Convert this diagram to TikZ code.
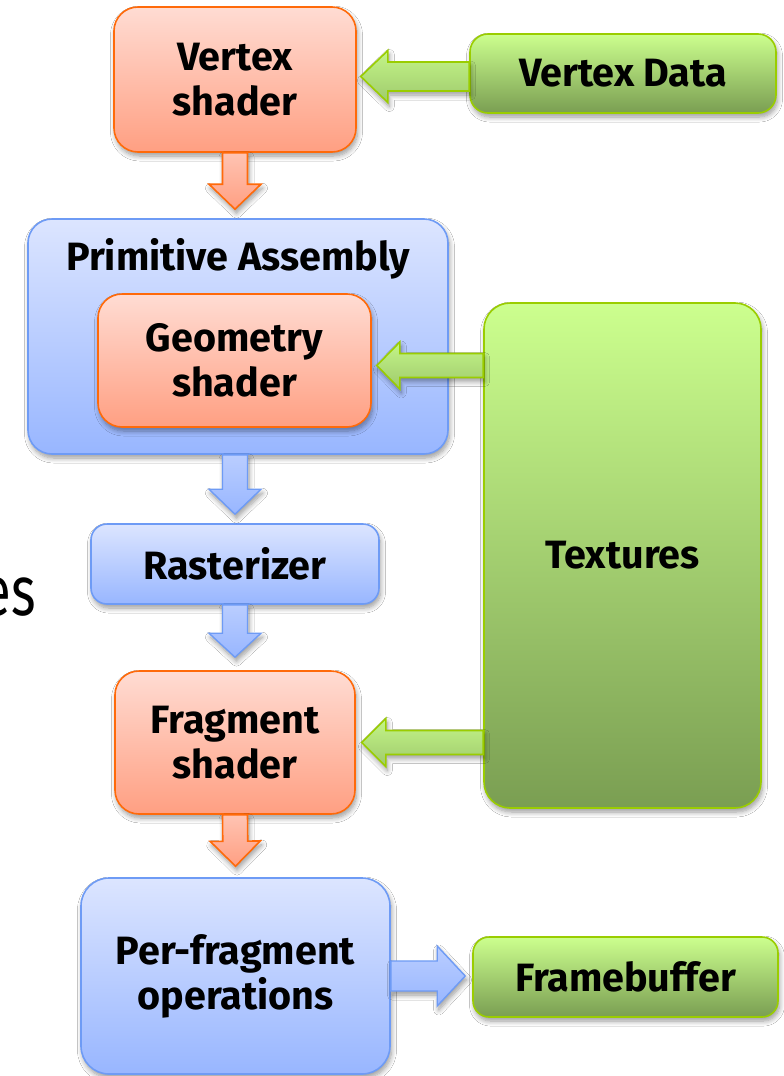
\documentclass[tikz,border=0pt]{standalone}
\usepackage{fontspec}
\newfontfamily\boxfont{Fira Sans}
\newfontfamily\plainfont{Fira Sans}
\usetikzlibrary{calc,shadows.blur}
\definecolor{orT}{HTML}{FFDCD3}
\definecolor{orB}{HTML}{FF9F82}
\definecolor{orL}{HTML}{FF6A0A}
\definecolor{blT}{HTML}{DCE5FF}
\definecolor{blB}{HTML}{98B6FF}
\definecolor{blL}{HTML}{6E9BF5}
\definecolor{grT}{HTML}{CCFF8E}
\definecolor{grB}{HTML}{7A9E52}
\definecolor{grL}{HTML}{9ACD00}
\newcommand{\blockarrow}[6]{%
  \coordinate (ba-s) at #2;
  \coordinate (ba-e) at #3;
  \coordinate (ba-h) at ($(ba-e)!#6!(ba-s)$);
  \path[#1] ($(ba-s)!#4!90:(ba-e)$) -- ($(ba-h)!#4!90:(ba-e)$) -- ($(ba-h)!#5!90:(ba-e)$) -- (ba-e)
    -- ($(ba-h)!#5!-90:(ba-e)$) -- ($(ba-h)!#4!-90:(ba-e)$) -- ($(ba-s)!#4!-90:(ba-e)$) -- cycle;
}
\begin{document}
\begin{tikzpicture}[x=1pt,y=-1pt,
  shad/.style={blur shadow={shadow xshift=1.5pt,shadow yshift=-4pt,shadow blur radius=5pt,shadow blur steps=8,shadow opacity=40}},
  boxtext/.style={font=\boxfont\bfseries\fontsize{39.5}{45}\selectfont,text=black},
  box/.style={shad,boxtext,rounded corners=24pt,line width=1.6pt,align=center,inner sep=0pt},
  obox/.style={box,draw=orL,top color=orT,bottom color=orB},
  bbox/.style={box,draw=blL,top color=blT,bottom color=blB},
  gbox/.style={box,draw=grL,top color=grT,bottom color=grB},
  oarr/.style={shad,draw=orL,line width=1.6pt,line join=miter,top color=orT!60!orB,bottom color=orB},
  barr/.style={shad,draw=blL,line width=1.4pt,line join=miter,top color=blT!50!blB,bottom color=blB},
  garr/.style={shad,draw=grL,line width=1.6pt,line join=miter,top color=grT!90!grB,bottom color=grT!45!grB},
]
\useasboundingbox (0,0) rectangle (784,1076);
\fill[white] (0,0) rectangle (784,1076);
\node[anchor=base east,inner sep=0pt] (es) at (36,615) {\scalebox{0.75}[1]{\plainfont\fontsize{70}{84}\selectfont es}};
% boxes
\node[obox,minimum width=242pt,minimum height=145pt] (vs) at (235,79.5) {Vertex\\shader};
\node[gbox,rounded corners=18pt,minimum width=306pt,minimum height=79pt] (vd) at (623,73.5) {Vertex Data};
\node[bbox,minimum width=420pt,minimum height=235pt] (pa) at (238,336.5) {};
\node[anchor=base,boxtext] (patxt) at (238,270) {Primitive Assembly};
\node[obox,minimum width=273pt,minimum height=133pt] (geo) at (234.5,360.5) {Geometry\\shader};
\node[gbox,rounded corners=26pt,minimum width=277pt,minimum height=505pt] (tex) at (622.5,555.5) {Textures};
\node[bbox,rounded corners=16pt,minimum width=288pt,minimum height=80pt] (ra) at (235,564) {Rasterizer};
\node[obox,minimum width=240pt,minimum height=143pt] (fs) at (235,742.5) {Fragment\\shader};
\node[bbox,rounded corners=28pt,minimum width=309pt,minimum height=196pt] (pf) at (235.5,976) {Per-fragment\\operations};
\node[gbox,rounded corners=16pt,minimum width=305pt,minimum height=80pt] (fb) at (625.5,977) {Framebuffer};
% arrows
\blockarrow{garr}{($(vd.west)+(0,3)$)}{($(vd.west -| vs.east)+(4,3)$)}{14.5pt}{26pt}{27pt}
\blockarrow{oarr}{(vs.south)}{($(vs.south |- pa.north)+(0,-9)$)}{12.5pt}{26pt}{25pt}
\blockarrow{garr}{($(tex.west |- geo.east)+(0,5)$)}{($(geo.east)+(5,5)$)}{12pt}{23.5pt}{23pt}
\blockarrow{barr}{(pa.south -| ra.north)}{($(ra.north)+(0,-9)$)}{12.5pt}{26pt}{25pt}
\blockarrow{barr}{(ra.south)}{($(fs.north)+(0,-13)$)}{12.5pt}{26pt}{24pt}
\blockarrow{garr}{(tex.west |- fs.east)}{($(fs.east)+(6,0)$)}{12pt}{24pt}{24pt}
\blockarrow{oarr}{(fs.south)}{($(pf.north)+(0,-11)$)}{12.5pt}{25pt}{25pt}
\blockarrow{barr}{(pf.east)}{($(pf.east -| fb.west)+(-7,0)$)}{15pt}{30pt}{28pt}
\end{tikzpicture}
\end{document}
